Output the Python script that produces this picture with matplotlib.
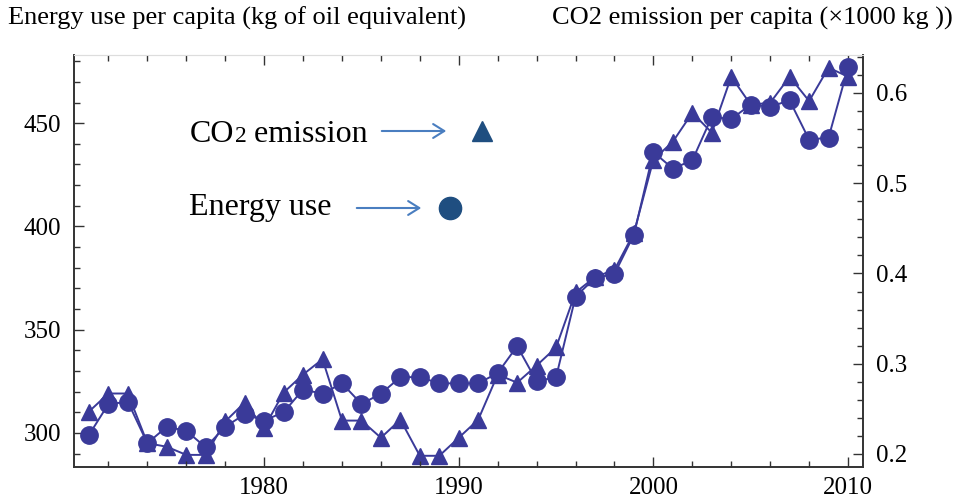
import matplotlib.pyplot as plt
import matplotlib.ticker as mticker
from matplotlib.lines import Line2D
from matplotlib.patches import FancyArrowPatch

plt.rcParams['font.family'] = ['Liberation Serif', 'DejaVu Serif']

years = list(range(1971, 2011))
energy_use = [299, 314, 315, 295, 303, 301, 293, 303, 309, 306, 310, 321, 319, 324, 314, 319, 327, 327, 324, 324,
              324, 329, 342, 325, 327, 366, 375, 377, 396, 436, 428, 432, 453, 452, 459, 458, 461, 442, 443, 477]
co2_emission = [0.247, 0.267, 0.267, 0.212, 0.208, 0.199, 0.199, 0.236, 0.257, 0.229, 0.268, 0.288, 0.305, 0.237,
                0.237, 0.218, 0.238, 0.198, 0.198, 0.218, 0.238, 0.288, 0.279, 0.298, 0.318, 0.379, 0.396, 0.404,
                0.445, 0.526, 0.546, 0.578, 0.556, 0.618, 0.587, 0.589, 0.618, 0.591, 0.628, 0.618]

left_title = "Energy use per capita (kg of oil equivalent)"
right_title = "CO2 emission per capita (\u00d71000 kg ))"

mark_col = '#3a3a99'
legend_col = '#1f4e80'
arrow_col = '#4a7ec0'

W, H = 957, 501
fig = plt.figure(figsize=(W / 100, H / 100), dpi=100)
ax = fig.add_axes([0.0773, 0.0679, 0.8245, 0.8223])
ax2 = ax.twinx()

ax.plot(years, energy_use, color=mark_col, lw=1.4, marker='o', ms=12.5, mec=mark_col, mfc=mark_col)
ax2.plot(years, co2_emission, color=mark_col, lw=1.4, marker='^', ms=11, mec=mark_col, mfc=mark_col)
ax.set_zorder(ax2.get_zorder() + 1)
ax.patch.set_visible(False)

ax.set_xlim(1970.23, 2010.77)
ax.set_ylim(283.5, 483)
ax2.set_ylim(0.1856, 0.642)

ax.xaxis.set_major_locator(mticker.MultipleLocator(10))
ax.xaxis.set_minor_locator(mticker.MultipleLocator(2))
ax.yaxis.set_major_locator(mticker.MultipleLocator(50))
ax.yaxis.set_minor_locator(mticker.MultipleLocator(10))
ax2.yaxis.set_major_locator(mticker.MultipleLocator(0.1))
ax2.yaxis.set_minor_locator(mticker.MultipleLocator(0.02))
ax2.yaxis.set_major_formatter(mticker.FormatStrFormatter('%.1f'))

ax.tick_params(axis='x', which='both', direction='in', top=True, bottom=True, labelsize=18, pad=7, color='#333333')
ax.tick_params(axis='y', which='both', direction='in', left=True, right=False, labelsize=18, pad=9, color='#333333')
ax2.tick_params(axis='y', which='both', direction='in', right=True, left=False, labelsize=18, pad=9, color='#333333')
for a in (ax, ax2):
    a.tick_params(which='major', length=7, width=1)
    a.tick_params(which='minor', length=4.5, width=1)
    for s in ('left', 'right', 'bottom'):
        a.spines[s].set_color('#333333')
        a.spines[s].set_linewidth(1.2)
    a.spines['top'].set_color('#dddddd')

fig.text(8 / W, 1 - 18 / H, left_title, fontsize=19, ha='left', va='center')
fig.text(953 / W, 1 - 18 / H, right_title, fontsize=19, ha='right', va='center')

# legend-like annotation, pieces placed one after another
renderer = fig.canvas.get_renderer()
t_co = fig.text(190 / W, 1 - 135 / H, "CO", fontsize=23, ha='left', va='center')
x_end = t_co.get_window_extent(renderer).x1
t_2 = fig.text(x_end / W, 1 - 136 / H, "2", fontsize=17, ha='left', va='center')
x_end = t_2.get_window_extent(renderer).x1
fig.text(x_end / W, 1 - 135 / H, " emission", fontsize=23, ha='left', va='center')
fig.text(189 / W, 1 - 207 / H, "Energy use", fontsize=23, ha='left', va='center')
for (x0, x1, y) in [(379, 449, 131), (354, 424, 208)]:
    fig.add_artist(FancyArrowPatch(
        (x0 / W, 1 - y / H), (x1 / W, 1 - y / H), transform=fig.transFigure,
        arrowstyle='->,head_length=8,head_width=5', color=arrow_col, lw=1.5))
fig.add_artist(Line2D([482 / W], [1 - 131 / H], marker='^', ms=14, color=legend_col, transform=fig.transFigure))
fig.add_artist(Line2D([450 / W], [1 - 208 / H], marker='o', ms=16, color=legend_col, transform=fig.transFigure))

fig.savefig('out.png', dpi=100)
